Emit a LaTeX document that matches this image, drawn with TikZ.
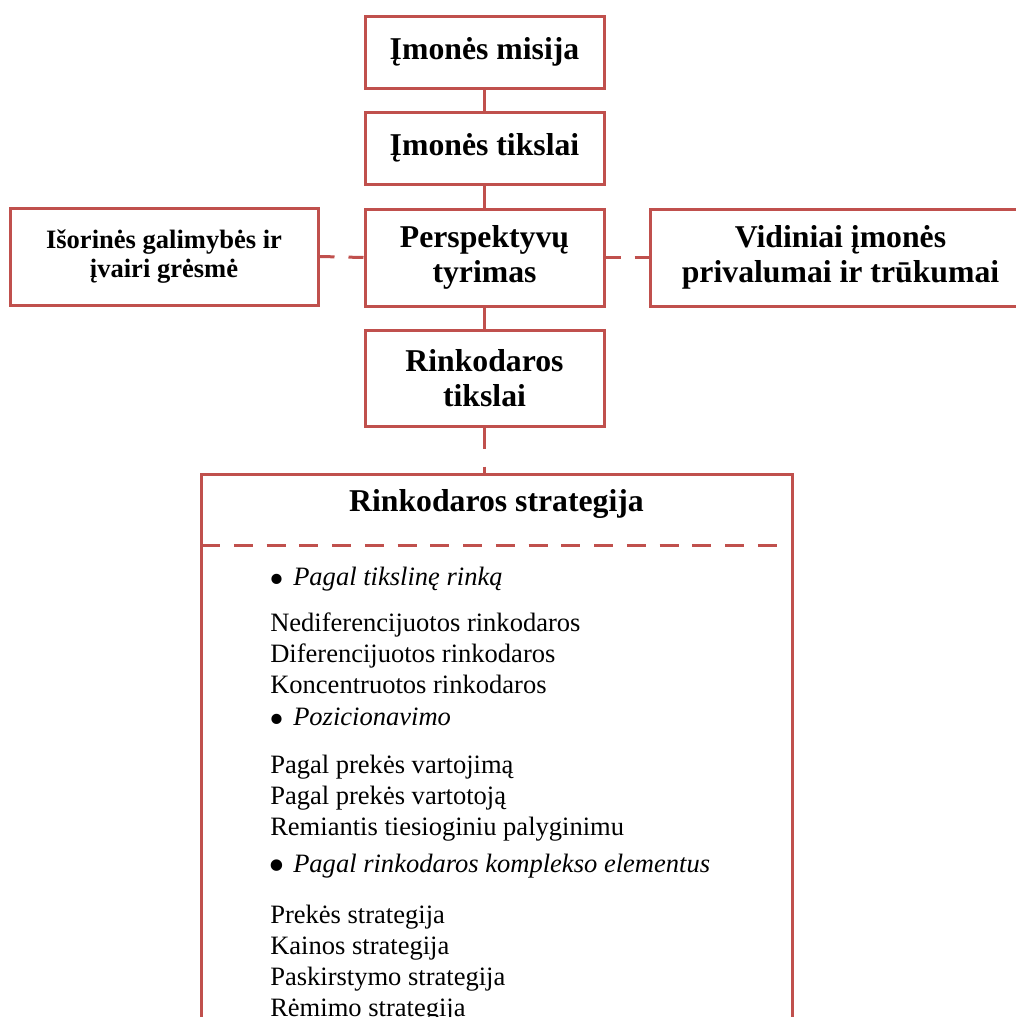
\documentclass[tikz,border=0pt]{standalone}
\usepackage{fontspec}
\setmainfont{Liberation Serif}
\definecolor{accent}{HTML}{C0504D}
\begin{document}
\begin{tikzpicture}[x=0.75pt,y=-0.75pt,
  frame/.style={draw=accent,line width=2.25pt,fill=white,inner sep=0pt,
    align=center,font=\fontsize{23.8}{26}\selectfont\bfseries},
  link/.style={draw=accent,line width=2.25pt},
  sidelink/.style={link,dash pattern=on 11.25pt off 10.5pt},
  downlink/.style={link,dash pattern=on 15.75pt off 13.5pt},
  item/.style={anchor=base west,inner sep=0pt,font=\fontsize{19.9}{23}\selectfont},
  head/.style={item,font=\fontsize{19.9}{23}\selectfont\itshape},
  bul/.style={anchor=center,inner sep=0pt,font=\fontsize{32}{34}\selectfont}
]
\useasboundingbox (0,0) rectangle (1016,1017);
\clip (0,0) rectangle (1016,1017);

% main chain of boxes
\node[frame,minimum width=239*0.75pt,minimum height=72*0.75pt] (mis) at (484.5,52) {Įmonės misija};
\node[frame,minimum width=239*0.75pt,minimum height=72*0.75pt] (tik) at (484.5,148) {Įmonės tikslai};
\node[frame,minimum width=239*0.75pt,minimum height=97*0.75pt] (per) at (484.5,257.5) {Perspektyvų\\tyrimas};
\node[frame,minimum width=308*0.75pt,minimum height=97*0.75pt,
      font=\fontsize{19.9}{21.8}\selectfont\bfseries] (out) at (164,256.5) {Išorinės galimybės ir\\įvairi grėsmė};
\node[frame,minimum width=381*0.75pt,minimum height=97*0.75pt] (ins) at (840.5,257.5) {Vidiniai įmonės\\privalumai ir trūkumai};
\node[frame,minimum width=239*0.75pt,minimum height=96*0.75pt] (rt) at (484.5,378) {Rinkodaros\\tikslai};

% strategy container, running past the lower edge
\node[draw=accent,line width=2.25pt,fill=white,inner sep=0pt,
      minimum width=591*0.75pt,minimum height=640*0.75pt,anchor=north] (rs) at (496.5,473) {};
\node[inner sep=0pt,font=\fontsize{23.8}{25.5}\selectfont\bfseries] (rstitle) at (496.5,504) {Rinkodaros strategija};
\coordinate (sepL) at (201,545);
\coordinate (sepR) at (777,545);
\draw[link,dash pattern=on 14.25pt off 10.32pt] (sepL) -- (sepR);

% connectors
\draw[link] (mis.south) -- (tik.north);
\draw[link] (tik.south) -- (per.north);
\draw[link] (per.south) -- (rt.north);
\draw[sidelink] (out.east) -- (per.west);
\draw[sidelink] (per.east) -- (ins.west);
\draw[downlink] (rt.south) -- (rt.south |- rs.north);

% list of strategies
\node[bul] (b1) at (277,584) {\textbullet};
\node[head] (h1) at (293,585) {Pagal tikslinę rinką};
\node[item] (a1) at (270,631) {Nediferencijuotos rinkodaros};
\node[item] (a2) at (270,662) {Diferencijuotos rinkodaros};
\node[item] (a3) at (270,693) {Koncentruotos rinkodaros};
\node[bul] (b2) at (277,724) {\textbullet};
\node[head] (h2) at (293,725) {Pozicionavimo};
\node[item] (c1) at (270,773) {Pagal prekės vartojimą};
\node[item] (c2) at (270,804) {Pagal prekės vartotoją};
\node[item] (c3) at (270,835) {Remiantis tiesioginiu palyginimu};
\node[bul,font=\fontsize{36}{38}\selectfont] (b3) at (277,871) {\textbullet};
\node[head] (h3) at (293,872) {Pagal rinkodaros komplekso elementus};
\node[item] (d1) at (270,923) {Prekės strategija};
\node[item] (d2) at (270,954) {Kainos strategija};
\node[item] (d3) at (270,985) {Paskirstymo strategija};
\node[item] (d4) at (270,1016) {Rėmimo strategija};
\end{tikzpicture}
\end{document}
